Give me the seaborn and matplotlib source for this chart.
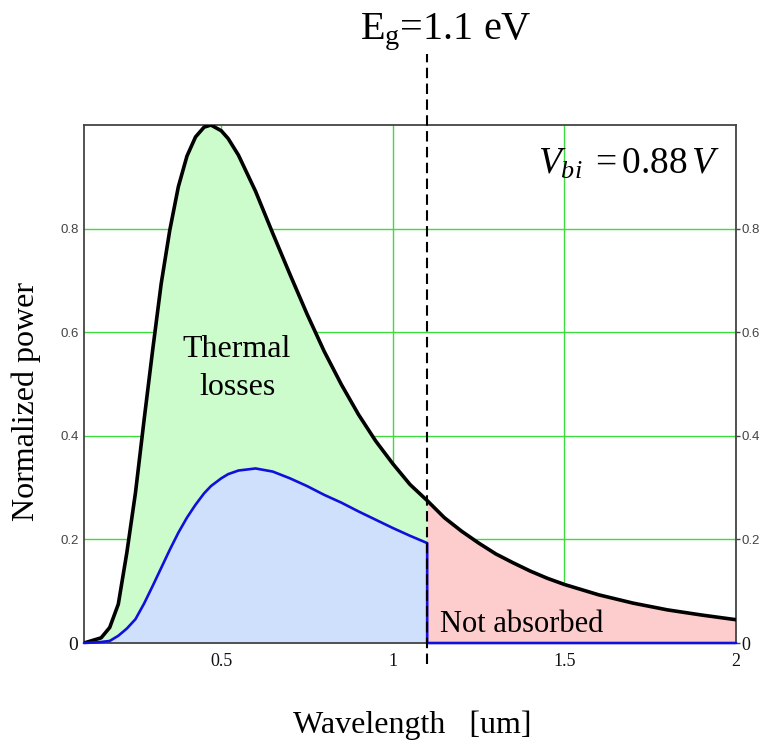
"""Normalized solar spectrum: useful power, thermal losses and unabsorbed part."""

import matplotlib
matplotlib.use("Agg")
import matplotlib.pyplot as plt
import pandas as pd
import seaborn as sns

# wavelength grid [um] and curves
WAVELENGTH = [0.100, 0.150, 0.175, 0.200, 0.225, 0.250, 0.275, 0.300, 0.325, 0.350,
              0.375, 0.400, 0.425, 0.450, 0.470, 0.500, 0.520, 0.550, 0.600, 0.650,
              0.700, 0.750, 0.800, 0.850, 0.900, 0.950, 1.000, 1.050, 1.100,
              1.150, 1.200, 1.250, 1.300, 1.350, 1.400, 1.450, 1.500, 1.600,
              1.700, 1.800, 1.900, 2.000]
TOTAL_POWER = [0.000, 0.010, 0.030, 0.075, 0.175, 0.290, 0.430, 0.565, 0.694, 0.797,
               0.881, 0.940, 0.977, 0.996, 1.000, 0.989, 0.974, 0.942, 0.872, 0.791,
               0.712, 0.635, 0.563, 0.499, 0.441, 0.390, 0.346, 0.306, 0.275,
               0.242, 0.216, 0.193, 0.172, 0.155, 0.139, 0.125, 0.113, 0.093,
               0.077, 0.064, 0.054, 0.045]
# usable power (below the band gap only)
USEFUL_POWER = [0.000, 0.002, 0.004, 0.014, 0.028, 0.046, 0.076, 0.110, 0.145, 0.180,
                0.213, 0.242, 0.267, 0.289, 0.303, 0.318, 0.326, 0.333, 0.337, 0.331,
                0.318, 0.303, 0.286, 0.271, 0.254, 0.238, 0.222, 0.207, 0.193]
EG_WAVELENGTH = 1.1
Y_TICKS = [0, 0.2, 0.4, 0.6, 0.8]
Y_TICK_LABELS = ["0", "0.2", "0.4", "0.6", "0.8"]
X_TICKS = [0.5, 1, 1.5, 2]
X_TICK_LABELS = ["0.5", "1", "1.5", "2"]

SERIF = "Liberation Serif"
GRID_GREEN = "#3ddc3d"

sns.set_theme(style="white")
plt.rcParams["font.family"] = [SERIF, "DejaVu Serif"]
plt.rcParams["text.color"] = "black"
plt.rcParams["mathtext.fontset"] = "custom"
plt.rcParams["mathtext.rm"] = SERIF
plt.rcParams["mathtext.it"] = SERIF + ":italic"

n_abs = len(USEFUL_POWER)
df_total = pd.DataFrame({"wl": WAVELENGTH, "p": TOTAL_POWER})
df_useful = pd.DataFrame({
    "wl": WAVELENGTH[:n_abs] + [EG_WAVELENGTH, WAVELENGTH[-1]],
    "p": USEFUL_POWER + [0.0, 0.0],
})

fig = plt.figure(figsize=(7.6, 7.47), dpi=100)
ax = fig.add_axes([0.1105, 0.1392, 0.858, 0.6934])

# fills
wl_abs = WAVELENGTH[:n_abs]
ax.fill_between(wl_abs, 0, USEFUL_POWER, color="#cfe0fd", lw=0, zorder=1)
ax.fill_between(wl_abs, USEFUL_POWER, TOTAL_POWER[:n_abs], color="#ccfccc", lw=0, zorder=1)
ax.fill_between(WAVELENGTH[n_abs - 1:], 0, TOTAL_POWER[n_abs - 1:], color="#fdcccc", lw=0, zorder=1)

sns.lineplot(data=df_total, x="wl", y="p", color="black", lw=2.6,
             estimator=None, sort=False, ax=ax, zorder=3)
sns.lineplot(data=df_useful, x="wl", y="p", color="#1010dd", lw=1.9,
             estimator=None, sort=False, ax=ax, zorder=3, clip_on=False)

# band gap marker
ax.plot([EG_WAVELENGTH, EG_WAVELENGTH], [-0.04, 1.137], color="black", lw=1.5,
        dashes=(5, 2.6), clip_on=False, zorder=4)

ax.set_xlim(0.1, 2.0)
ax.set_ylim(0, 1.0)
ax.set_xticks(X_TICKS, X_TICK_LABELS)
ax.set_yticks(Y_TICKS, Y_TICK_LABELS)
ax.grid(True, color=GRID_GREEN, lw=1.0)
ax.set_axisbelow(True)
for s in ax.spines.values():
    s.set_color("#444444")
    s.set_linewidth(1.3)

ax.tick_params(axis="x", length=0, pad=7, labelsize=13, colors="#111111")
ax.tick_params(axis="y", left=False, right=True, labelleft=True, labelright=True,
               length=3, width=1, color="#444444", pad=1, labelsize=9.5,
               labelcolor="#444444")
for tick in ax.yaxis.get_major_ticks():
    if tick.get_loc() == 0:
        tick.label1.set(fontsize=14, color="#111111", family=SERIF)
        tick.label2.set(fontsize=13, color="#111111", family=SERIF)
    else:
        tick.label1.set_family("Liberation Sans")
        tick.label2.set_family("Liberation Sans")

ax.set_xlabel("")
ax.set_ylabel("")
fig.text(0.543, 0.019, "Wavelength   [um]", fontsize=23, ha="center", va="baseline")
fig.text(0.035, 0.462, "Normalized power", fontsize=23, rotation=90,
         ha="center", va="center")

ax.text(0.546, 0.553, "Thermal", fontsize=23, ha="center", va="baseline", zorder=5)
ax.text(0.546, 0.478, "losses", fontsize=23, ha="center", va="baseline", zorder=5)
ax.text(1.138, 0.021, "Not absorbed", fontsize=22, ha="left", va="baseline", zorder=5)
fig.text(0.587, 0.948, r"E$_\mathregular{g}$=1.1 eV", fontsize=29,
         ha="center", va="baseline")
fig.text(0.828, 0.768, r"$V_{bi}\;=0.88\,V$", fontsize=27, ha="center",
         va="baseline")

fig.savefig("out.png", dpi=100)
